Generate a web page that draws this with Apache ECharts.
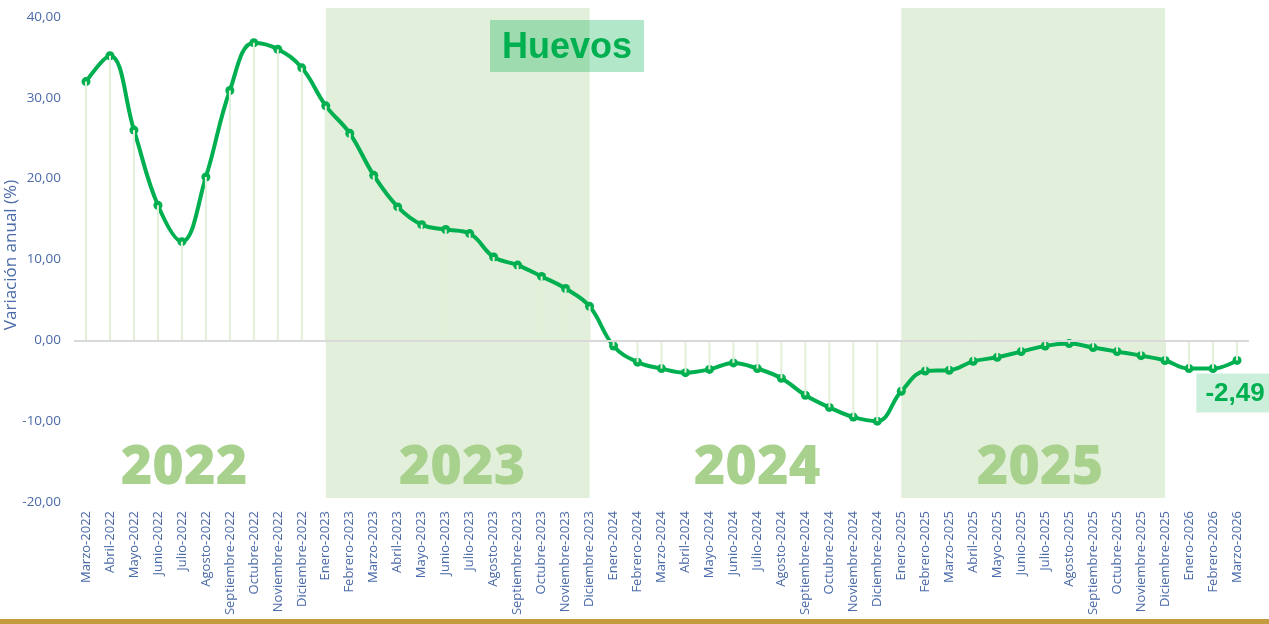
<!DOCTYPE html>
<html>
<head>
<meta charset="utf-8">
<script src="https://cdn.jsdelivr.net/npm/echarts@6/dist/echarts.min.js"></script>
<style>
  html, body { margin: 0; padding: 0; background: #fff; }
  #main { width: 1269px; height: 624px; }
</style>
</head>
<body>
<div id="main"></div>
<script>
var meses = [
  'Marzo-2022','Abril-2022','Mayo-2022','Junio-2022','Julio-2022','Agosto-2022','Septiembre-2022','Octubre-2022','Noviembre-2022','Diciembre-2022',
  'Enero-2023','Febrero-2023','Marzo-2023','Abril-2023','Mayo-2023','Junio-2023','Julio-2023','Agosto-2023','Septiembre-2023','Octubre-2023','Noviembre-2023','Diciembre-2023',
  'Enero-2024','Febrero-2024','Marzo-2024','Abril-2024','Mayo-2024','Junio-2024','Julio-2024','Agosto-2024','Septiembre-2024','Octubre-2024','Noviembre-2024','Diciembre-2024',
  'Enero-2025','Febrero-2025','Marzo-2025','Abril-2025','Mayo-2025','Junio-2025','Julio-2025','Agosto-2025','Septiembre-2025','Octubre-2025','Noviembre-2025','Diciembre-2025',
  'Enero-2026','Febrero-2026','Marzo-2026'
];

var variacion = [
  32.0, 35.2, 26.0, 16.7, 12.2, 20.2, 30.9, 36.8, 36.0, 33.7,
  29.0, 25.6, 20.4, 16.5, 14.3, 13.7, 13.2, 10.3, 9.3, 7.9, 6.4, 4.2,
  -0.7, -2.7, -3.5, -4.0, -3.6, -2.8, -3.5, -4.7, -6.8, -8.3, -9.5, -10.0,
  -6.3, -3.8, -3.7, -2.6, -2.1, -1.4, -0.7, -0.4, -0.9, -1.4, -1.9, -2.5,
  -3.5, -3.5, -2.49
];

var yTicks = [-20, -10, 0, 10, 20, 30, 40];

// bandas sombreadas (años impares)
var bandas = [['Enero-2023', 'Diciembre-2023'], ['Enero-2025', 'Diciembre-2025']];
var bandaTop = 41.1, bandaBottom = -19.5;
var anios = ['2022', '2023', '2024', '2025'];
var aniosX = [184, 462, 757, 1040];

function coma(v, d) {
  return v.toFixed(d).replace('.', ',');
}

var myChart = echarts.init(document.getElementById('main'));

var verde = '#00b050';
var azul = '#4a6aa8';

var option = {
  animation: false,
  title: {
    text: 'Huevos',
    left: 490,
    top: 20,
    padding: [10, 12, 6, 12],
    backgroundColor: 'rgba(0,176,80,0.30)',
    textStyle: {
      fontFamily: 'Liberation Sans',
      fontWeight: 'bold',
      fontSize: 36,
      lineHeight: 36,
      color: verde
    },
    z: 10
  },
  grid: { left: 74, right: 20, top: 8, bottom: 122, outerBoundsMode: 'none' },
  xAxis: {
    type: 'category',
    data: meses,
    boundaryGap: true,
    axisLine: { show: false },
    axisTick: { show: false },
    axisLabel: {
      rotate: 90,
      interval: 0,
      margin: 9,
      fontFamily: 'Open Sans',
      fontSize: 13,
      color: azul
    }
  },
  yAxis: {
    type: 'value',
    min: yTicks[0],
    max: bandaTop,
    interval: 10,
    name: 'Variación anual (%)',
    nameLocation: 'middle',
    nameGap: 54,
    nameMoveOverlap: false,
    nameTextStyle: { fontFamily: 'Open Sans', fontSize: 17, color: azul },
    axisLine: { show: false },
    axisTick: { show: false },
    splitLine: { show: false },
    axisLabel: {
      margin: 13,
      showMaxLabel: false,
      fontFamily: 'Open Sans',
      fontSize: 13.5,
      color: azul,
      formatter: function (v) {
        return yTicks.indexOf(v) >= 0 ? coma(v, 2) : '';
      }
    }
  },
  graphic: anios.map(function (a, i) {
    return {
      type: 'text',
      x: aniosX[i],
      y: 469,
      z: 10,
      style: {
        text: a,
        fontFamily: 'Open Sans',
        fontWeight: 800,
        fontSize: 54,
        fill: '#a9d18e',
        align: 'center',
        verticalAlign: 'middle'
      }
    };
  }).concat([{
    type: 'rect',
    shape: { x: 0, y: 619, width: 1269, height: 5 },
    style: { fill: '#c49b3f' }
  }]),
  series: [
    {
      name: 'Variación',
      type: 'line',
      data: variacion,
      smooth: 0.4,
      clip: false,
      symbol: 'circle',
      symbolSize: 9,
      z: 3,
      lineStyle: { color: verde, width: 4 },
      itemStyle: { color: verde },
      label: { show: false },
      markArea: {
        silent: true,
        itemStyle: { color: '#e2efda' },
        data: bandas.map(function (b) {
          return [{ xAxis: b[0], yAxis: bandaTop }, { xAxis: b[1], yAxis: bandaBottom }];
        })
      },
      markLine: {
        silent: true,
        symbol: 'none',
        label: { show: false },
        lineStyle: { color: '#d9d9d9', width: 2, type: 'solid' },
        data: [{ yAxis: 0 }]
      }
    },
    {
      name: 'guias',
      type: 'bar',
      data: variacion.map(function (v, i) {
        if (i === variacion.length - 1) {
          return {
            value: v,
            label: {
              show: true,
              position: 'bottom',
              distance: 13,
              offset: [-3, 0],
              formatter: function (p) { return coma(p.value, 2); },
              backgroundColor: 'rgba(0,176,80,0.20)',
              padding: [7, 7, 6, 9],
              fontFamily: 'Liberation Sans',
              fontWeight: 'bold',
              fontSize: 26,
              color: verde
            }
          };
        }
        return v;
      }),
      barWidth: 2,
      z: 4,
      itemStyle: { color: '#e2efda' }
    }
  ]
};

myChart.setOption(option);
</script>
</body>
</html>
